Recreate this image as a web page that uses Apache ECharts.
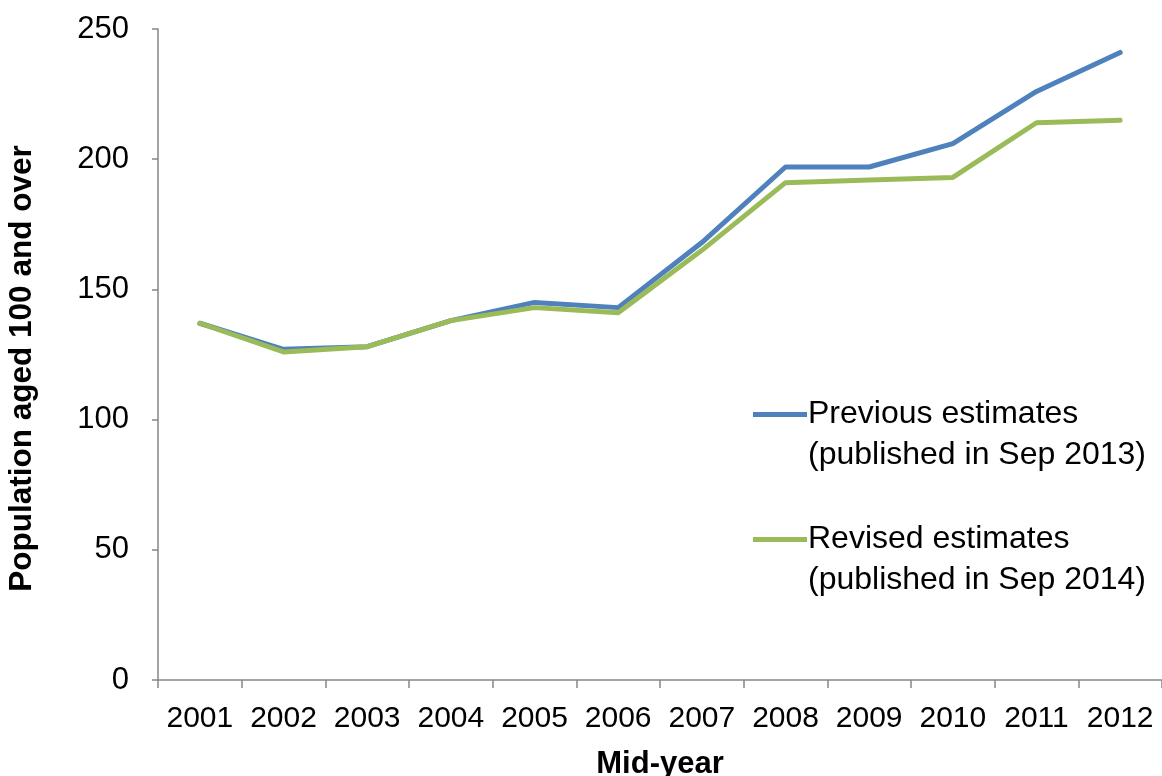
<!DOCTYPE html>
<html>
<head>
<meta charset="utf-8">
<title>Population aged 100 and over</title>
<script src="https://cdn.jsdelivr.net/npm/echarts@6/dist/echarts.min.js"></script>
<style>
  html, body { margin: 0; padding: 0; background: #ffffff; }
  #chart { width: 1162px; height: 776px; }
</style>
</head>
<body>
<div id="chart"></div>
<script>
// Mid-year categories
const years = ['2001', '2002', '2003', '2004', '2005', '2006', '2007', '2008', '2009', '2010', '2011', '2012'];

// Estimates published in September 2013
const previousEstimates = [137, 127, 128, 138, 145, 143, 168, 197, 197, 206, 226, 241];

// Estimates published in September 2014
const revisedEstimates = [137, 126, 128, 138, 143, 141, 165, 191, 192, 193, 214, 215];

const seriesNames = [
  'Previous estimates\n(published in Sep 2013)',
  'Revised estimates\n(published in Sep 2014)'
];

const yTicks = { min: 0, max: 250, interval: 50 };

const FONT = '"Liberation Sans", Arial, sans-serif';
const AXIS_GREY = '#868686';

const chart = echarts.init(document.getElementById('chart'), null, { renderer: 'canvas' });

chart.setOption({
  backgroundColor: '#ffffff',
  animation: false,
  grid: {
    left: 158, right: 0, top: 29, bottom: 96,
    containLabel: false,
    outerBoundsMode: 'none'
  },
  legend: {
    orient: 'vertical',
    left: 748,
    top: 348,
    itemWidth: 54,
    itemHeight: 5,
    itemGap: 2,
    icon: 'rect',
    data: seriesNames,
    // a leading blank line keeps the key line level with the first text line
    formatter: name => '\n' + name,
    textStyle: {
      fontFamily: FONT, fontSize: 32, color: '#000000', lineHeight: 41,
      padding: [0, 0, 0, -4]
    }
  },
  xAxis: {
    type: 'category',
    data: years,
    boundaryGap: true,
    name: 'Mid-year',
    nameLocation: 'middle',
    nameGap: 69,
    nameTextStyle: { fontFamily: FONT, fontSize: 31, fontWeight: 'bold', color: '#000000' },
    axisLine: { lineStyle: { color: AXIS_GREY, width: 1.5 } },
    axisTick: { show: true, interval: 0, length: 8, lineStyle: { color: AXIS_GREY, width: 1.5 } },
    axisLabel: { interval: 0, fontFamily: FONT, fontSize: 30, color: '#000000', margin: 24 },
    splitLine: { show: false }
  },
  yAxis: {
    type: 'value',
    min: yTicks.min,
    max: yTicks.max,
    interval: yTicks.interval,
    name: 'Population aged 100 and over',
    nameLocation: 'middle',
    nameGap: 120,
    nameRotate: 90,
    nameTextStyle: {
      fontFamily: FONT, fontSize: 31.5, fontWeight: 'bold', color: '#000000',
      padding: [0, 28, 0, 0]
    },
    axisLine: { show: true, lineStyle: { color: AXIS_GREY, width: 1.5 } },
    axisTick: { show: true, length: 6, lineStyle: { color: AXIS_GREY, width: 1.5 } },
    axisLabel: { fontFamily: FONT, fontSize: 31, color: '#000000', margin: 29 },
    splitLine: { show: false }
  },
  series: [
    {
      name: seriesNames[0],
      type: 'line',
      data: previousEstimates,
      symbol: 'none',
      smooth: false,
      z: 2,
      itemStyle: { color: '#4F81BD' },
      lineStyle: { color: '#4F81BD', width: 5, cap: 'round', join: 'round' }
    },
    {
      name: seriesNames[1],
      type: 'line',
      data: revisedEstimates,
      symbol: 'none',
      smooth: false,
      z: 3,
      itemStyle: { color: '#9BBB59' },
      lineStyle: { color: '#9BBB59', width: 5, cap: 'round', join: 'round' }
    }
  ]
});
</script>
</body>
</html>
